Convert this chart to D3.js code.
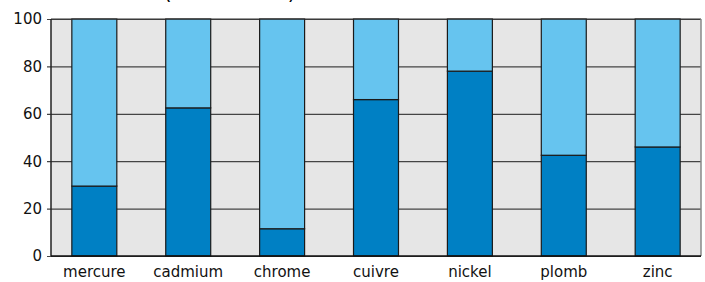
<!DOCTYPE html>
<html>
<head>
<meta charset="utf-8">
<script src="https://cdn.jsdelivr.net/npm/d3@7/dist/d3.min.js"></script>
<style>
  body { margin: 0; background: #fff; }
  svg { display: block; }
</style>
</head>
<body>
<div id="chart"></div>
<script>
// metals, share of each part (the two parts add up to 100)
var categories = ['mercure', 'cadmium', 'chrome', 'cuivre', 'nickel', 'plomb', 'zinc'];
var darkValues = [29.5, 62.5, 11.5, 66, 78, 42.5, 46];
var lightValues = [70.5, 37.5, 88.5, 34, 22, 57.5, 54];
var yTicks = [0, 20, 40, 60, 80, 100];

var width = 705, height = 282
  , margin = {top: 19, right: 4, bottom: 26, left: 51}
  , fontStack = '"DejaVu Sans", Verdana, sans-serif';

var svg = d3.select('#chart').append('svg')
  .attr('width', width)
  .attr('height', height);

// clipped title, only the bottoms of the brackets show above the plot
svg.append('text')
  .attr('x', 166)
  .attr('y', -0.8)
  .style('font-family', '"Liberation Sans", Arial, sans-serif')
  .style('font-weight', 'bold')
  .style('font-size', '12px')
  .text('(en milliers de tonnes)');

var x = d3.scaleBand()
  .domain(categories)
  .range([margin.left, width - margin.right])
  .paddingInner(0.521)
  .paddingOuter(0.222);

var y = d3.scaleLinear()
  .domain([0, 100])
  .range([height - margin.bottom, margin.top]);

// plot background
svg.append('rect')
  .attr('x', margin.left)
  .attr('y', margin.top)
  .attr('width', width - margin.right - margin.left)
  .attr('height', y(0) - margin.top)
  .attr('fill', '#e6e6e6');

// gridlines + y axis
var yAxis = svg.append('g')
  .attr('transform', 'translate(' + margin.left + ',0)')
  .call(d3.axisLeft(y)
    .tickValues(yTicks)
    .tickSize(-(width - margin.right - margin.left))
    .tickSizeOuter(0)
    .tickPadding(9)
    .tickFormat(d3.format('d')));

yAxis.select('.domain').remove();
yAxis.selectAll('.tick line')
  .attr('x1', -4)
  .attr('stroke', '#444')
  .attr('stroke-width', 1.2);
yAxis.selectAll('.tick text')
  .style('font-family', fontStack)
  .style('font-size', '15px')
  .attr('fill', '#111');

// stacked bars
var rows = categories.map(function(c, i) {
  return {cat: c, dark: darkValues[i], light: lightValues[i]};
});
var stack = d3.stack().keys(['dark', 'light'])(rows);
var colors = {dark: '#0080c4', light: '#66c4ef'};

svg.append('g')
  .selectAll('g')
    .data(stack)
  .enter().append('g')
    .attr('fill', function(d) { return colors[d.key]; })
  .selectAll('rect')
    .data(function(d) { return d; })
  .enter().append('rect')
    .attr('x', function(d) { return x(d.data.cat); })
    .attr('y', function(d) { return y(d[1]); })
    .attr('width', x.bandwidth())
    .attr('height', function(d) { return y(d[0]) - y(d[1]); })
    .attr('stroke', '#1a1a1a')
    .attr('stroke-width', 1.2);

// frame: left + bottom black, top dark, right grey
var x0 = margin.left, x1 = width - margin.right, yTop = margin.top, yBot = y(0);
svg.append('line').attr('x1', x0).attr('x2', x1).attr('y1', yTop).attr('y2', yTop)
  .attr('stroke', '#333').attr('stroke-width', 1.2);
svg.append('line').attr('x1', x1).attr('x2', x1).attr('y1', yTop).attr('y2', yBot)
  .attr('stroke', '#888').attr('stroke-width', 1.5);
svg.append('line').attr('x1', x0).attr('x2', x0).attr('y1', yTop).attr('y2', yBot)
  .attr('stroke', '#222').attr('stroke-width', 1.5);
svg.append('line').attr('x1', x0).attr('x2', x1).attr('y1', yBot).attr('y2', yBot)
  .attr('stroke', '#111').attr('stroke-width', 1.5);

// x axis labels
var xAxis = svg.append('g')
  .attr('transform', 'translate(0,' + yBot + ')')
  .call(d3.axisBottom(x).tickSize(0).tickPadding(10));
xAxis.select('.domain').remove();
xAxis.selectAll('.tick text')
  .style('font-family', fontStack)
  .style('font-size', '15px')
  .attr('fill', '#111');
</script>
</body>
</html>
